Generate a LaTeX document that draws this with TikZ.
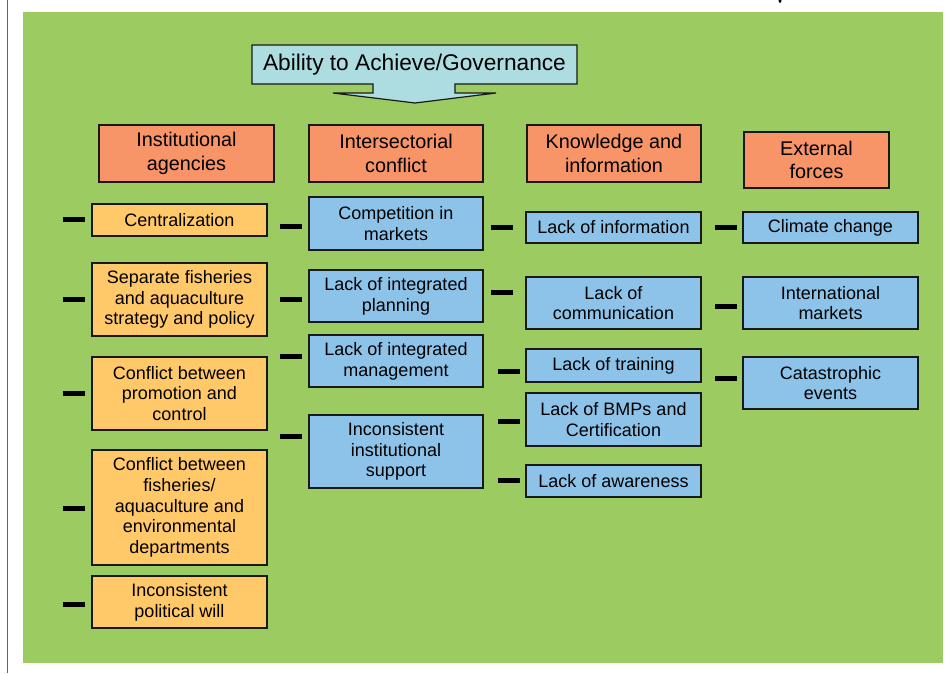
\documentclass[tikz,border=0pt]{standalone}
\usepackage{fontspec}
\setmainfont{Liberation Sans}
\definecolor{grn}{RGB}{156,203,98}
\definecolor{hdr}{RGB}{247,148,104}
\definecolor{org}{RGB}{255,200,105}
\definecolor{blu}{RGB}{141,195,233}
\definecolor{ttl}{RGB}{173,221,225}
\definecolor{edge}{RGB}{40,110,200}
\begin{document}
\begin{tikzpicture}[x=1pt,y=-1pt,
  base/.style={draw=black!90, line width=1.2pt, inner sep=0pt, align=center,
    font=\fontsize{18}{20.7}\selectfont},
  sz/.style 2 args={minimum width=#1pt, minimum height=#2pt},
  hbox/.style={base, fill=hdr, font=\fontsize{19.8}{23.5}\selectfont},
  obox/.style={base, fill=org},
  bbox/.style={base, fill=blu},
  dashmark/.style={fill=black, inner sep=0pt, minimum width=22pt, minimum height=5pt},
]
\useasboundingbox (0,0) rectangle (946,673);
\fill[white] (0,0) rectangle (946,673);
\draw[edge, line width=1.2pt] (7.5,0) -- (7.5,673);
\fill[black] (778.5,0) -- (781.5,0) -- (781,2.5) -- (779,2.5) -- cycle;
\fill[grn] (23,12) rectangle (943,663);

% title callout
\draw[draw=black!90, line width=1.2pt, fill=ttl]
  (252,45) -- (577,45) -- (577,84) -- (455,84) -- (455,93) -- (496,93) -- (415,103)
  -- (333,93) -- (373,93) -- (373,84) -- (252,84) -- cycle;
\node[font=\fontsize{22.7}{26}\selectfont] (title) at (414.5,65) {Ability to Achieve/Governance};

% headers
\node[hbox, sz={175}{57}] (h1) at (186.5,153.5) {Institutional\\agencies};
\node[hbox, sz={174}{57}] (h2) at (396,153.5) {Intersectorial\\conflict};
\node[hbox, sz={174}{57}] (h3) at (614,153.5) {Knowledge and\\information};
\node[hbox, sz={145}{56}] (h4) at (816.5,160) {External\\forces};

% column 1
\node[obox, sz={175}{32}] (a1) at (179.5,220) {Centralization};
\node[obox, sz={175}{73}] (a2) at (179.5,299.5) {Separate fisheries\\and aquaculture\\strategy and policy};
\node[obox, sz={175}{73}] (a3) at (179.5,393.5) {Conflict between\\promotion and\\control};
\node[obox, sz={175}{115}] (a4) at (179.5,507.5) {Conflict between\\fisheries/\\aquaculture and\\environmental\\departments};
\node[obox, sz={175}{52}] (a5) at (179.5,602) {Inconsistent\\political will};

% column 2
\node[bbox, sz={174}{53}] (b1) at (396,223.5) {Competition in\\markets};
\node[bbox, sz={174}{52}] (b2) at (396,296) {Lack of integrated\\planning};
\node[bbox, sz={174}{52}] (b3) at (396,361) {Lack of integrated\\management};
\node[bbox, sz={174}{73}] (b4) at (396,451.5) {Inconsistent\\institutional\\support};

% column 3
\node[bbox, sz={175}{31}] (k1) at (613.5,227.5) {Lack of information};
\node[bbox, sz={175}{52}] (k2) at (613.5,303) {Lack of\\communication};
\node[bbox, sz={175}{33}] (k3) at (613.5,365.5) {Lack of training};
\node[bbox, sz={175}{53}] (k4) at (613.5,419.5) {Lack of BMPs and\\Certification};
\node[bbox, sz={175}{32}] (k5) at (613.5,481) {Lack of awareness};

% column 4
\node[bbox, sz={175}{31}] (e1) at (830.5,227.5) {Climate change};
\node[bbox, sz={175}{52}] (e2) at (830.5,303) {International\\markets};
\node[bbox, sz={175}{52}] (e3) at (830.5,383) {Catastrophic\\events};

% dash marks
\node[dashmark] (da1) at (74,219) {};
\node[dashmark] (da2) at (74,299) {};
\node[dashmark] (da3) at (74,393) {};
\node[dashmark] (da4) at (74,508) {};
\node[dashmark] (da5) at (74,604) {};
\node[dashmark] (db1) at (291,226) {};
\node[dashmark] (db2) at (291,299) {};
\node[dashmark] (db3) at (291,356) {};
\node[dashmark] (db4) at (291,436) {};
\node[dashmark] (dk1) at (501.5,227) {};
\node[dashmark] (dk2) at (501.5,292) {};
\node[dashmark] (dk3) at (508.5,371) {};
\node[dashmark] (dk4) at (508.5,421) {};
\node[dashmark] (dk5) at (508.5,480) {};
\node[dashmark] (de1) at (726,227) {};
\node[dashmark] (de2) at (726,306) {};
\node[dashmark] (de3) at (726,378) {};
\end{tikzpicture}
\end{document}
